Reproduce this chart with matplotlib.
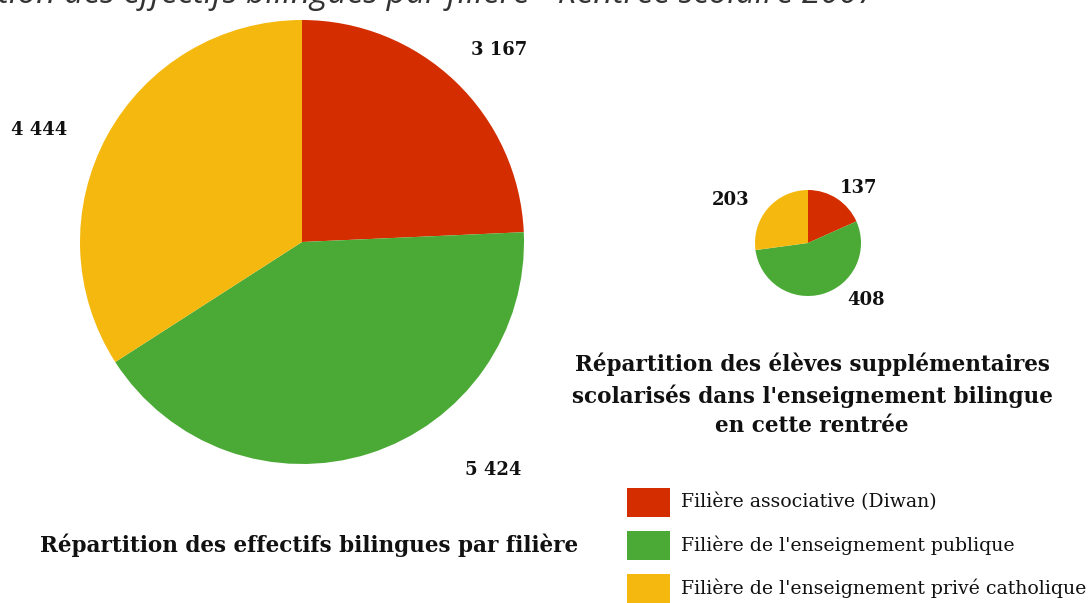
import matplotlib
matplotlib.use("Agg")
import matplotlib.pyplot as plt

categories = ["Filière associative (Diwan)",
              "Filière de l'enseignement publique",
              "Filière de l'enseignement privé catholique"]
effectifs = [3167, 5424, 4444]
supplementaires = [137, 408, 203]
effectifs_labels = ["3 167", "5 424", "4 444"]
supp_labels = ["137", "408", "203"]
colors = ["#D42E00", "#4BAA36", "#F5B80E"]
main_title = "Répartition des effectifs bilingues par filière - Rentrée scolaire 2007"
left_title = "Répartition des effectifs bilingues par filière"
right_title = ("Répartition des élèves supplémentaires\n"
               "scolarisés dans l'enseignement bilingue\nen cette rentrée")

W, H = 1092, 603
fig = plt.figure(figsize=(W / 100, H / 100), dpi=100)
fig.patch.set_facecolor("white")
ax = fig.add_axes([0, 0, 1, 1])

def Y(y):
    return H - y

ax.pie(effectifs, colors=colors, startangle=90, counterclock=False,
       center=(302, Y(242)), radius=222, frame=True,
       wedgeprops=dict(linewidth=0))
ax.pie(supplementaires, colors=colors, startangle=90, counterclock=False,
       center=(808, Y(243)), radius=53, frame=True,
       wedgeprops=dict(linewidth=0))
ax.set_xlim(0, W)
ax.set_ylim(0, H)
ax.set_aspect("equal")
ax.axis("off")

serif = ["DejaVu Serif"]
lab = dict(family=serif, fontweight="bold", fontsize=13, color="#111111",
           ha="center", va="center")
big_pos = [(499, 50), (493, 470), (39, 130)]
for t, (x, y) in zip(effectifs_labels, big_pos):
    ax.text(x, Y(y), t, **lab)
small_pos = [(858, 188), (866, 300), (731, 200)]
for t, (x, y) in zip(supp_labels, small_pos):
    ax.text(x, Y(y), t, **lab)

ax.text(309, Y(545), left_title,
        family=serif, fontweight="bold", fontsize=15.5, color="#111111",
        ha="center", va="center")
ax.text(812, Y(395), right_title,
        family=serif, fontweight="bold", fontsize=15.5, color="#111111",
        ha="center", va="center", linespacing=1.45)

# legend
leg_y = [502, 545, 588]
for c, t, y in zip(colors, categories, leg_y):
    ax.add_patch(plt.Rectangle((627, Y(y) - 14.5), 43, 29, color=c, lw=0))
    ax.text(681, Y(y), t, family=serif, fontsize=13.6, color="#111111",
            ha="left", va="center")

# top title, partially cut off: "ation ... 2007" visible from x=0 to ~876
tt = ax.text(876, Y(3), main_title,
             family=["Open Sans", "DejaVu Sans"], style="italic", fontsize=22,
             color="#333333", ha="right", va="baseline", clip_on=False)
fig.canvas.draw()
r = fig.canvas.get_renderer()
probe = ax.text(0, 0, main_title[7:], family=["Open Sans", "DejaVu Sans"],
                style="italic", fontsize=22)
w = probe.get_window_extent(r).width
probe.remove()
tt.set_fontsize(22 * 876 / w)

fig.savefig("out.png", dpi=100, facecolor="white")
